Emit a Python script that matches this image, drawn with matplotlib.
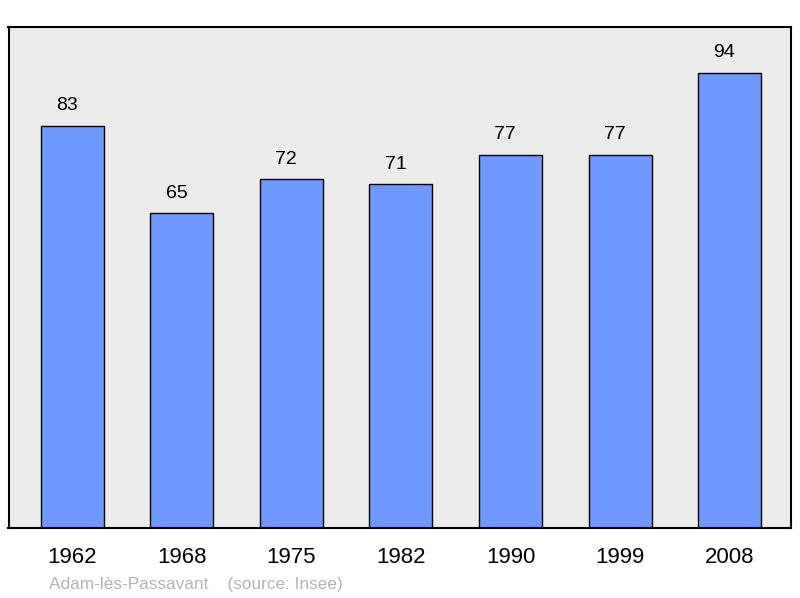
import matplotlib.pyplot as plt
import numpy as np

plt.rcParams['font.family'] = ['Liberation Sans', 'DejaVu Sans']

years = ["1962", "1968", "1975", "1982", "1990", "1999", "2008"]
population = [83, 65, 72, 71, 77, 77, 94]
commune = "Adam-lès-Passavant"
source = "(source: Insee)"

fig = plt.figure(figsize=(8, 5.98), dpi=100)
ax = fig.add_axes([8.5/800, 70/598, 782.5/800, 501/598])
ax.set_facecolor('#ececec')

x = np.arange(len(years))
bars = ax.bar(x, population, width=0.575, color='#7099ff', edgecolor='black', linewidth=1.0)

# value labels sit a little left of the bar centre in the original
for xi, v in zip(x, population):
    ax.annotate(str(v), (xi, v), xytext=(-3.8, 8.5), textcoords='offset points',
                ha='center', va='bottom', fontsize=14)

ax.set_xlim(-0.58, 6.56)
ax.set_ylim(0, 103.5)
ax.set_xticks(x)
ax.set_xticklabels(years, fontsize=16)
ax.tick_params(axis='x', length=0, pad=14)
ax.set_yticks([])
for s in ax.spines.values():
    s.set_linewidth(1.5)

fig.text(49/800, 1 - 584.5/598, commune + "    " + source, fontsize=12.4,
         color='#b4b4b4', ha='left', va='center')

fig.savefig('out.png', dpi=100)
